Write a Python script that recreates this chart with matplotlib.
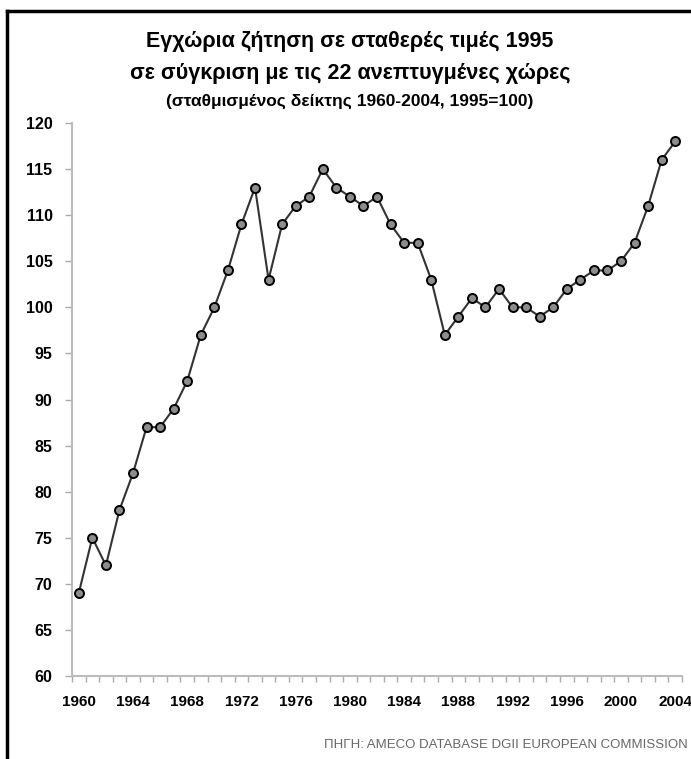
import numpy as np
import matplotlib
matplotlib.use('Agg')
import matplotlib.pyplot as plt
from matplotlib.lines import Line2D
from matplotlib import font_manager

# Domestic demand at constant 1995 prices vs 22 developed countries
years = list(range(1960, 2005))
index_values = [69, 75, 72, 78, 82, 87, 87, 89, 92, 97,
                100, 104, 109, 113, 103, 109, 111, 112, 115, 113,
                112, 111, 112, 109, 107, 107, 103, 97, 99, 101,
                100, 102, 100, 100, 99, 100, 102, 103, 104, 104,
                105, 107, 111, 116, 118]
label_years = years[::4]
y_ticks = list(range(60, 121, 5))

title_lines = ['Εγχώρια ζήτηση σε σταθερές τιμές 1995',
               'σε σύγκριση με τις 22 ανεπτυγμένες χώρες',
               '(σταθμισμένος δείκτης 1960-2004, 1995=100)']
source = 'ΠΗΓΗ: AMECO DATABASE DGII EUROPEAN COMMISSION'

installed = {f.name for f in font_manager.fontManager.ttflist}
fams = [f for f in ['Liberation Sans Narrow', 'Liberation Sans', 'DejaVu Sans']
        if f in installed]
plt.rcParams['font.family'] = fams

W, H = 691, 759
fig = plt.figure(figsize=(W / 100, H / 100), dpi=100)

# frame (top and left edges visible)
fig.add_artist(Line2D([7 / W, 1.02], [1 - 11 / H] * 2, color='black', lw=2.5,
                      transform=fig.transFigure))
fig.add_artist(Line2D([7 / W] * 2, [-0.02, 1 - 11 / H], color='black', lw=2.5,
                      transform=fig.transFigure))

ax = fig.add_axes([72 / W, 1 - 676 / H, 610 / W, 553 / H])
ax.plot(years, index_values, color='#333333', lw=1.5, marker='o', ms=6.5,
        markerfacecolor='#8c8c8c', markeredgecolor='black', mew=1.4, zorder=3)

ax.set_xlim(1959.5, 2004.5)
ax.set_ylim(60, 120)
ax.set_yticks(y_ticks)
ax.set_yticklabels([str(v) for v in y_ticks], fontweight='bold', fontsize=11.5)
ax.set_xticks(np.arange(1959.5, 2005, 1), minor=True)
ax.set_xticks(label_years)
ax.set_xticklabels([str(y) for y in label_years], fontweight='bold', fontsize=11)
ax.tick_params(axis='x', which='major', length=0, pad=14)
ax.tick_params(axis='x', which='minor', length=4, color='#aaaaaa', width=1)
ax.tick_params(axis='y', length=5, color='#aaaaaa', width=1, pad=9)

for side in ['top', 'right']:
    ax.spines[side].set_visible(False)
for side in ['left', 'bottom']:
    ax.spines[side].set_color('#bbbbbb')
    ax.spines[side].set_linewidth(1.5)

cx = 350 / W
fig.text(cx, 1 - 42 / H, title_lines[0], ha='center', va='center',
         fontsize=15.5, fontweight='bold')
fig.text(cx, 1 - 73 / H, title_lines[1], ha='center', va='center',
         fontsize=15.5, fontweight='bold')
fig.text(cx, 1 - 101 / H, title_lines[2], ha='center', va='center',
         fontsize=12.5, fontweight='bold')

fig.text(688 / W, 1 - 745 / H, source, ha='right', va='center', fontsize=9.5,
         color='#666666', family=['Liberation Sans', 'DejaVu Sans'])

fig.savefig('out.png', dpi=100)
